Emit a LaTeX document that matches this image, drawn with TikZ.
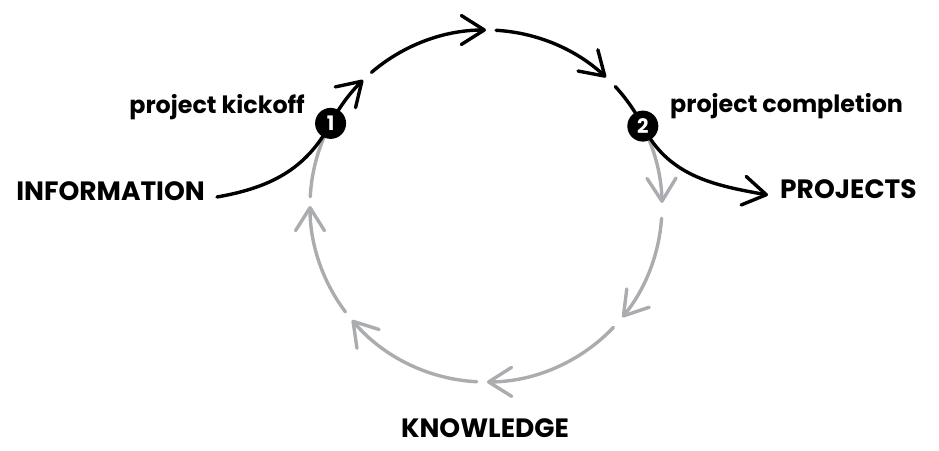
\documentclass[tikz,border=0pt]{standalone}
\usepackage{fontspec}
\setmainfont{Poppins}
\usetikzlibrary{arrows.meta,calc}
\definecolor{cycgray}{RGB}{170,172,175}
\tikzset{
  blk/.style={line width=3.4pt,black,line cap=round},
  gry/.style={line width=3.4pt,cycgray,line cap=round},
  barb/.style={-{Straight Barb[length=23pt,width=29pt,line cap=round,line join=round]}},
  numdot/.style={circle,fill=black,text=white,minimum size=31pt,inner sep=0pt,font=\bfseries\fontsize{20}{20}\selectfont},
  bigtxt/.style={inner sep=0pt,font=\bfseries\fontsize{26.5}{26.5}\selectfont},
  smalltxt/.style={inner sep=0pt,font=\bfseries\fontsize{23.8}{23.8}\selectfont}
}
\begin{document}
\begin{tikzpicture}[x=1pt,y=1pt]
\useasboundingbox (0,0) rectangle (939,450);
\def\R{176}
\coordinate (c) at (486,244);
% node positions
\coordinate (p1) at ([shift={(152:\R)}]c);
\coordinate (p2) at ([shift={(27:\R)}]c);
% arc start points
\coordinate (s2) at ([shift={(130.6:\R)}]c);
\coordinate (s3) at ([shift={(86.7:\R)}]c);
\coordinate (s4) at ([shift={(42.7:\R)}]c);
\coordinate (s6) at ([shift={(-4:\R)}]c);
\coordinate (s7) at ([shift={(-43.6:\R)}]c);
\coordinate (s8) at ([shift={(-93:\R)}]c);
\coordinate (s9) at ([shift={(-143:\R)}]c);
\coordinate (s10) at ([shift={(177:\R)}]c);
% black arcs
\draw[blk,barb] (p1) arc[start angle=152,end angle=134.3,radius=\R];
\draw[blk,barb] (s2) arc[start angle=130.6,end angle=90,radius=\R];
\draw[blk,barb] (s3) arc[start angle=86.7,end angle=47,radius=\R];
\draw[blk] (s4) arc[start angle=42.7,end angle=27,radius=\R];
% gray arcs
\draw[gry,barb] (p2) arc[start angle=27,end angle=1,radius=\R];
\draw[gry,barb] (s6) arc[start angle=-4,end angle=-39.2,radius=\R];
\draw[gry,barb] (s7) arc[start angle=-43.6,end angle=-89.7,radius=\R];
\draw[gry,barb] (s8) arc[start angle=-93,end angle=-139.6,radius=\R];
\draw[gry,barb] (s9) arc[start angle=-143,end angle=-180,radius=\R];
\draw[gry] (s10) arc[start angle=177,end angle=152,radius=\R];
% texts
\node[bigtxt,anchor=east] (info) at (205,259) {INFORMATION};
\node[bigtxt,anchor=west] (proj) at (780,261) {PROJECTS};
\node[bigtxt] (know) at (485,22) {KNOWLEDGE};
\node[smalltxt,anchor=base east] (kick) at (305,336) {project kickoff};
\node[smalltxt,anchor=base west] (compl) at (670,337) {project completion};
% side curves
\coordinate (istart) at (217,253);
\coordinate (ptip) at (768,255);
\draw[blk] (istart) to[out=10,in=242] (p1);
\draw[blk,barb] (p2) to[out=-63,in=170] (ptip);
% number dots
\node[numdot] (n1) at (p1) {1};
\node[numdot] (n2) at (p2) {2};
\end{tikzpicture}
\end{document}
